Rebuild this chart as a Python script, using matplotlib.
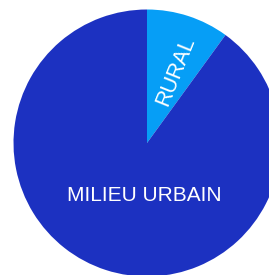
import matplotlib.pyplot as plt
import numpy as np

plt.rcParams['font.family'] = ['Liberation Sans', 'DejaVu Sans']

labels = ['RURAL', 'MILIEU URBAIN']
shares = [10, 90]
colors = ['#069ef6', '#1c31c1']

fig = plt.figure(figsize=(2.69, 2.75), dpi=100)
ax = fig.add_axes([0, 0, 1, 1])
ax.pie(shares, colors=colors, startangle=90, counterclock=False,
       radius=1.0, center=(0, 0), wedgeprops={'linewidth': 0})

# labels placed like the original (not at wedge mid-points)
ax.text(0.213, 0.54, labels[0], color='white', fontsize=15.5,
        rotation=68, ha='center', va='center', rotation_mode='anchor')
ax.text(-0.02, -0.39, labels[1], color='white', fontsize=15,
        ha='center', va='center')

# pie centre at ~(147, 143) px, radius ~133.5 px
r_px = 133.5
ax.set_xlim(-147 / r_px, (269 - 147) / r_px)
ax.set_ylim(-(275 - 143) / r_px, 143 / r_px)
ax.set_aspect('auto')
ax.axis('off')

fig.savefig('out.png', dpi=100)
